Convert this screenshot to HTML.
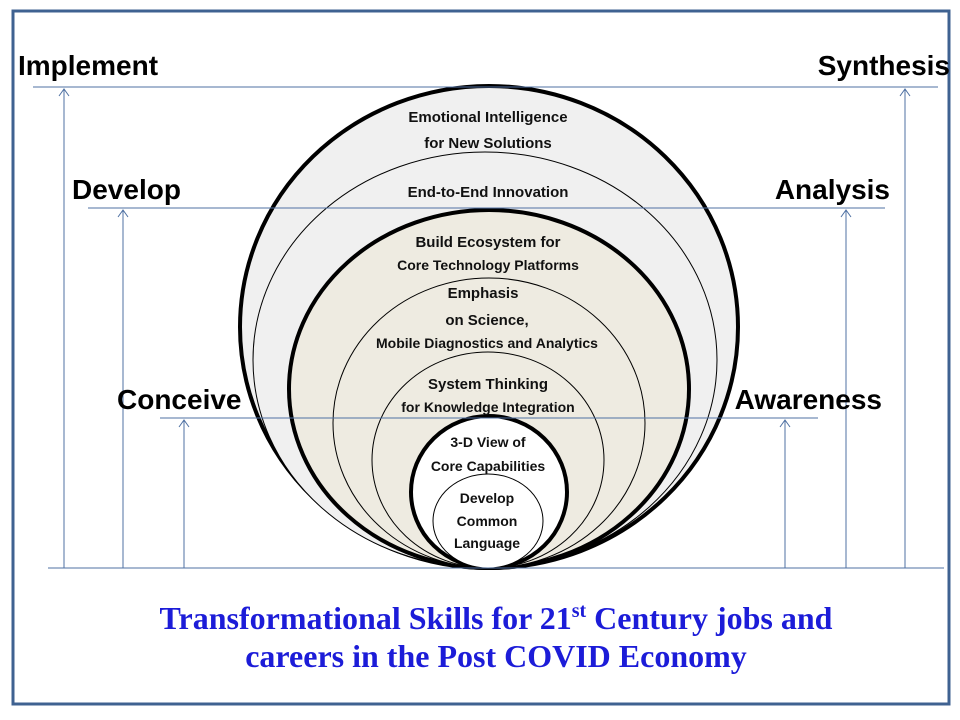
<!DOCTYPE html>
<html><head><meta charset="utf-8"><style>
body{margin:0;background:#fff;}
svg{display:block}
.l{font-family:"Liberation Sans",sans-serif;font-weight:bold;font-size:28px;fill:#000}
.t{font-family:"Liberation Sans",sans-serif;font-weight:bold;font-size:15px;fill:#111;text-anchor:middle}
.ti{font-family:"Liberation Serif",serif;font-weight:bold;font-size:32px;fill:#1c1cd8;text-anchor:middle}
</style></head><body>
<svg width="960" height="720" viewBox="0 0 960 720">
<rect x="13" y="11" width="936" height="693" fill="#fff" stroke="#3f6291" stroke-width="3"/>
<ellipse cx="489" cy="327" rx="249" ry="241" fill="#f0f0f0" stroke="#000" stroke-width="4"/>
<ellipse cx="485" cy="360" rx="232" ry="208" fill="#f0f0f0" stroke="#000" stroke-width="1"/>
<ellipse cx="489" cy="389" rx="200" ry="179" fill="#eeebe1" stroke="#000" stroke-width="4"/>
<ellipse cx="489" cy="423" rx="156" ry="145" fill="#eeebe1" stroke="#000" stroke-width="1"/>
<ellipse cx="488" cy="460" rx="116" ry="108" fill="#eeebe1" stroke="#000" stroke-width="1"/>
<ellipse cx="489" cy="492" rx="78" ry="76" fill="#fff" stroke="#000" stroke-width="4"/>
<ellipse cx="488" cy="521" rx="55" ry="47" fill="#fff" stroke="#000" stroke-width="1"/>
<g stroke="#4f71a3" stroke-width="1" fill="none">
<line x1="33" y1="87" x2="938" y2="87"/>
<line x1="88" y1="208" x2="885" y2="208"/>
<line x1="160" y1="418" x2="818" y2="418"/>
<line x1="48" y1="568" x2="944" y2="568"/>
<line x1="64" y1="568" x2="64" y2="89"/><path d="M59,96 L64,89 L69,96"/>
<line x1="123" y1="568" x2="123" y2="210"/><path d="M118,217 L123,210 L128,217"/>
<line x1="184" y1="568" x2="184" y2="420"/><path d="M179,427 L184,420 L189,427"/>
<line x1="785" y1="568" x2="785" y2="420"/><path d="M780,427 L785,420 L790,427"/>
<line x1="846" y1="568" x2="846" y2="210"/><path d="M841,217 L846,210 L851,217"/>
<line x1="905" y1="568" x2="905" y2="89"/><path d="M900,96 L905,89 L910,96"/>
</g>
<text class="l" x="18" y="75">Implement</text>
<text class="l" x="950" y="75" text-anchor="end">Synthesis</text>
<text class="l" x="72" y="199">Develop</text>
<text class="l" x="890" y="199" text-anchor="end">Analysis</text>
<text class="l" x="117" y="409">Conceive</text>
<text class="l" x="882" y="409" text-anchor="end">Awareness</text>
<text class="t" x="488" y="122">Emotional  Intelligence</text>
<text class="t" x="488" y="148">for  New Solutions</text>
<text class="t" x="488" y="197">End-to-End  Innovation</text>
<text class="t" x="488" y="247">Build Ecosystem for</text>
<text class="t" x="488" y="270" style="font-size:14px">Core Technology Platforms</text>
<text class="t" x="483" y="298">Emphasis</text>
<text class="t" x="487" y="325">on Science,</text>
<text class="t" x="487" y="348" style="font-size:14px">Mobile Diagnostics and Analytics</text>
<text class="t" x="488" y="389">System Thinking</text>
<text class="t" x="488" y="412" style="font-size:14px">for Knowledge Integration</text>
<text class="t" x="488" y="447" style="font-size:14px">3-D View of</text>
<text class="t" x="488" y="471" style="font-size:14px">Core Capabilities</text>
<text class="t" x="487" y="503" style="font-size:14px">Develop</text>
<text class="t" x="487" y="526" style="font-size:14px">Common</text>
<text class="t" x="487" y="548" style="font-size:14px">Language</text>
<text class="ti" x="496" y="629">Transformational Skills for 21<tspan dy="-12" font-size="20">st</tspan><tspan dy="12"> Century jobs and</tspan></text>
<text class="ti" x="496" y="667">careers in the Post COVID Economy</text>
</svg>
</body></html>
